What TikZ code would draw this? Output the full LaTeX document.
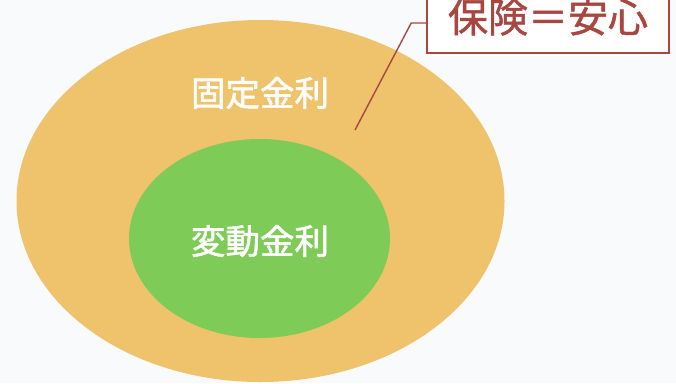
\documentclass[tikz,border=0pt]{standalone}
\usepackage{fontspec}
\newfontfamily\jp[FakeBold=1.6]{Noto Sans CJK JP}
\newfontfamily\jpr[FakeBold=1.2]{Noto Sans CJK JP}
\usetikzlibrary{shapes.geometric}
\definecolor{bgc}{HTML}{F9FAFC}
\definecolor{outerc}{HTML}{EEC36C}
\definecolor{innerc}{HTML}{7FCB58}
\definecolor{redc}{HTML}{A84640}
\tikzset{
  blob/.style={ellipse, inner sep=0pt, draw=none},
  whitelabel/.style={text=white, font=\jp\fontsize{34.5}{34.5}\selectfont, inner sep=0pt},
  callout/.style={draw=redc, line width=1.6pt, fill=white, text=redc,
    font=\jpr\fontsize{40}{40}\selectfont, minimum width=242pt, minimum height=72pt, inner sep=0pt},
  leader/.style={draw=redc, line width=1.4pt}
}
\begin{document}
\begin{tikzpicture}[x=1pt,y=-1pt]
\useasboundingbox (0,0) rectangle (676,383);
\clip (0,0) rectangle (676,383);
\fill[bgc] (0,0) rectangle (676,383);
\node[blob, fill=outerc, minimum width=488pt, minimum height=362pt] (outer) at (260.5,201) {};
\node[blob, fill=innerc, minimum width=261pt, minimum height=199pt] (inner) at (259.5,238.5) {};
\node[whitelabel] (fixed) at (260,93) {固定金利};
\node[whitelabel] (float) at (260,241) {変動金利};
\node[callout] (ins) at (548,17) {\raisebox{-1pt}{保険＝安心}};
\coordinate (tip) at (355,130);
\draw[leader] ([yshift=-6pt]ins.west) -- ++(-15,0) -- (tip);
\end{tikzpicture}
\end{document}
